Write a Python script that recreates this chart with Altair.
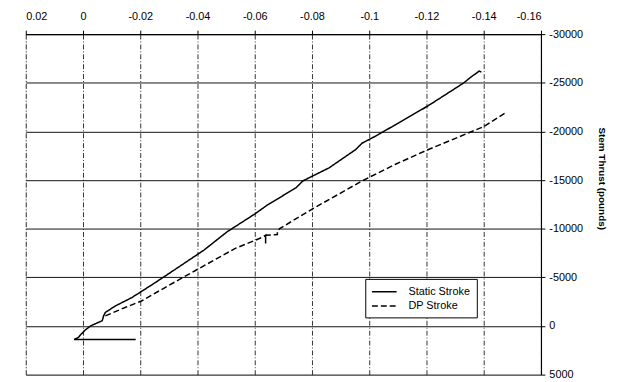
import altair as alt
import pandas as pd

# Displacement (x) and stem thrust (y)
static_x = [-0.0184, 0.0031, 0.0015, 0.0011, -0.0009, -0.0028, -0.0067, -0.0072, -0.0078,
            -0.0113, -0.0170, -0.0251, -0.0320, -0.0423, -0.0503, -0.0601, -0.0641, -0.0745,
            -0.0768, -0.0860, -0.0952, -0.0975, -0.1021, -0.1090, -0.1205, -0.1330, -0.1354,
            -0.1375, -0.1384, -0.1392]
static_y = [1390, 1390, 1150, 980, 380, -30, -540, -1040, -1390,
            -2060, -2910, -4430, -5780, -7810, -9670, -11530, -12370, -14230,
            -14910, -16260, -18120, -18790, -19500, -20660, -22620, -24980, -25560,
            -26000, -26200, -26100]

dp_x = [-0.0078, -0.0147, -0.0204, -0.0325, -0.0532, -0.0630, -0.0638, -0.0638, -0.0638,
        -0.0679, -0.0679, -0.0687, -0.0802, -0.0975, -0.1090, -0.1205, -0.1400, -0.1478]
dp_y = [-1040, -1900, -2570, -4590, -7980, -9160, -9330, -8490, -9330,
        -9400, -9740, -10010, -12040, -14910, -16600, -18120, -20490, -21940]

series_names = ["Static Stroke", "DP Stroke"]
x_ticks = [0.02, 0, -0.02, -0.04, -0.06, -0.08, -0.1, -0.12, -0.14, -0.16]
y_ticks = [-30000, -25000, -20000, -15000, -10000, -5000, 0, 5000]

rows = []
for i, (a, b) in enumerate(zip(static_x, static_y)):
    rows.append({"x": a, "y": b, "series": series_names[0], "i": i})
for i, (a, b) in enumerate(zip(dp_x, dp_y)):
    rows.append({"x": a, "y": b, "series": series_names[1], "i": i})
df = pd.DataFrame(rows)

FONT = "Liberation Sans"

chart = alt.Chart(df).mark_line(color="black", strokeWidth=1.5).encode(
    x=alt.X("x:Q",
            scale=alt.Scale(domain=[-0.16, 0.02], reverse=True, nice=False, zero=False),
            axis=alt.Axis(orient="top", values=x_ticks, title=None,
                          labelExpr="toString(datum.value)",
                          grid=True, gridDash=[5, 2, 1, 2], gridColor="#333", gridWidth=1,
                          domainColor="black", domainWidth=1.2,
                          tickColor="black", tickSize=4, labelPadding=9,
                          labelFont=FONT, labelFontSize=11, labelColor="black")),
    y=alt.Y("y:Q",
            scale=alt.Scale(domain=[-30000, 5000], reverse=True, nice=False, zero=False),
            axis=alt.Axis(orient="right", values=y_ticks, title="Stem Thrust (pounds)",
                          labelExpr="toString(datum.value)",
                          grid=True, gridColor="#111", gridWidth=1,
                          domainColor="black", domainWidth=1.2,
                          tickColor="black", tickSize=4, labelPadding=4,
                          labelFont=FONT, labelFontSize=11, labelColor="black",
                          titleFont=FONT, titleFontSize=10, titleFontWeight="bold",
                          titleColor="black", titlePadding=14, titleY=146)),
    strokeDash=alt.StrokeDash("series:N",
                              scale=alt.Scale(domain=series_names, range=[[1, 0], [6, 3]]),
                              legend=alt.Legend(title=None, orient="none",
                                                legendX=344, legendY=248,
                                                strokeColor="black", fillColor="white",
                                                padding=6, symbolType="M-2,0H2",
                                                symbolSize=156, symbolOffset=6.25,
                                                symbolStrokeWidth=1.5,
                                                symbolStrokeColor="black",
                                                labelOffset=17.5,
                                                labelFont=FONT, labelFontSize=11,
                                                labelColor="black", rowPadding=2.5)),
    order="i:Q",
).properties(
    width=522, height=345,
    autosize=alt.AutoSizeParams(type="none"),
    padding={"left": 18, "top": 24, "right": 74, "bottom": 5},
).configure_view(stroke="transparent").configure(background="white")

chart.save("out.html", embed_options={"renderer": "svg", "actions": False})
